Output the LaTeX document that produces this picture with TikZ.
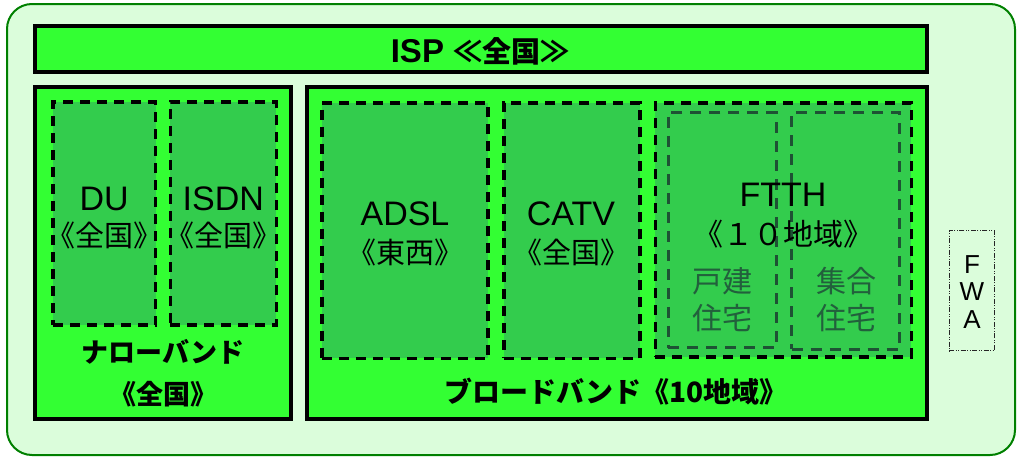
\documentclass[tikz,border=0pt]{standalone}
\usepackage{fontspec}
\newfontfamily\jp{Noto Sans CJK JP}
\newfontfamily\lat{Liberation Sans}
\definecolor{bgfill}{RGB}{219,253,219}
\definecolor{bgline}{RGB}{0,128,0}
\definecolor{bright}{RGB}{51,255,51}
\definecolor{midgreen}{RGB}{51,204,77}
\definecolor{darkline}{RGB}{30,82,52}
\definecolor{darktext}{RGB}{34,96,60}
\tikzset{
  outerbox/.style={draw=bgline, line width=2pt, fill=bgfill, rounded corners=25pt, inner sep=0pt},
  solidbox/.style={draw=black, line width=3.6pt, fill=bright, inner sep=0pt},
  dashbox/.style={draw=black, line width=3.6pt, fill=midgreen, dash pattern=on 10pt off 7pt, inner sep=0pt},
  innerdash/.style={draw=darkline, line width=3pt, dash pattern=on 11pt off 8pt, inner sep=0pt},
  fwabox/.style={draw=black!85, line width=1.1pt, dash pattern=on 5pt off 1.5pt on 1pt off 1.5pt on 1pt off 1.5pt, inner sep=0pt},
  lt/.style={inner sep=0pt, font=\lat\fontsize{34}{34}\selectfont, anchor=base},
  cj/.style={inner sep=0pt, font=\jp\fontsize{29}{29}\selectfont},
  cjw/.style={inner sep=0pt, font=\jp\fontsize{30}{30}\selectfont},
  sub/.style={inner sep=0pt, text=darktext, font=\jp\fontsize{30}{30}\selectfont},
  boldlbl/.style={inner sep=0pt, font=\jp\bfseries\fontsize{27}{27}\selectfont},
  fwa/.style={inner sep=0pt, font=\lat\fontsize{26}{26}\selectfont, anchor=base},
}
\begin{document}
\begin{tikzpicture}[x=1pt,y=-1pt]
\useasboundingbox (0,0) rectangle (1018,461);
% frame
\node[outerbox, minimum width=1008pt, minimum height=451pt] (frame) at (511,229.5) {};
% ISP bar
\node[solidbox, minimum width=892pt, minimum height=46pt] (isp) at (481,49.2) {};
\node[inner sep=0pt] (isp-t) at (480,51) {\lat\bfseries\fontsize{33}{33}\selectfont ISP {\jp\bfseries\fontsize{29}{29}\selectfont ≪全国≫}};
% narrowband / broadband
\node[solidbox, minimum width=256.5pt, minimum height=332pt] (narrow) at (163,253.1) {};
\node[solidbox, minimum width=620pt, minimum height=332pt] (broad) at (617,253.1) {};
% dashed service boxes
\node[dashbox, minimum width=102.5pt, minimum height=223pt] (du) at (104.25,213.5) {};
\node[dashbox, minimum width=106pt, minimum height=223pt] (isdn) at (223.3,213.5) {};
\node[dashbox, minimum width=166.3pt, minimum height=255.6pt] (adsl) at (404.9,230.5) {};
\node[dashbox, minimum width=136pt, minimum height=255.6pt] (catv) at (571.75,230.5) {};
\node[dashbox, minimum width=256pt, minimum height=254.5pt] (ftth) at (783.3,230) {};
\node[innerdash, minimum width=108pt, minimum height=235.4pt] (kodate) at (722,230) {};
\node[innerdash, minimum width=107.6pt, minimum height=236.7pt] (shugo) at (845.5,230.7) {};
% FWA
\node[fwabox, minimum width=45pt, minimum height=120.6pt] (fwa) at (971.7,290.5) {};
% texts
\node[lt] (du-a) at (104.25,210) {DU};
\node[cj] (du-b) at (104.25,235) {《全国》};
\node[lt] (isdn-a) at (223.3,210) {ISDN};
\node[cj] (isdn-b) at (223.3,235) {《全国》};
\node[lt] (adsl-a) at (405,225.7) {ADSL};
\node[cj] (adsl-b) at (405,252) {《東西》};
\node[lt] (catv-a) at (571,225.7) {CATV};
\node[cj] (catv-b) at (571,252) {《全国》};
\node[lt] (ftth-a) at (783,206.7) {FTTH};
\node[cjw] (ftth-b) at (783,234) {《１０地域》};
\node[sub] (kodate-a) at (722.5,281) {戸建};
\node[sub] (kodate-b) at (722.5,318) {住宅};
\node[sub] (shugo-a) at (846,281) {集合};
\node[sub] (shugo-b) at (846,318) {住宅};
\node[boldlbl] (narrow-a) at (163,352) {ナローバンド};
\node[boldlbl] (narrow-b) at (163,394) {《全国》};
\node[boldlbl, font=\jp\bfseries\fontsize{28}{28}\selectfont] (broad-t) at (616,392) {ブロードバンド《10地域》};
\node[fwa] (fwa-f) at (972,273) {F};
\node[fwa] (fwa-w) at (972,300.5) {W};
\node[fwa] (fwa-a) at (972,328) {A};
\end{tikzpicture}
\end{document}
